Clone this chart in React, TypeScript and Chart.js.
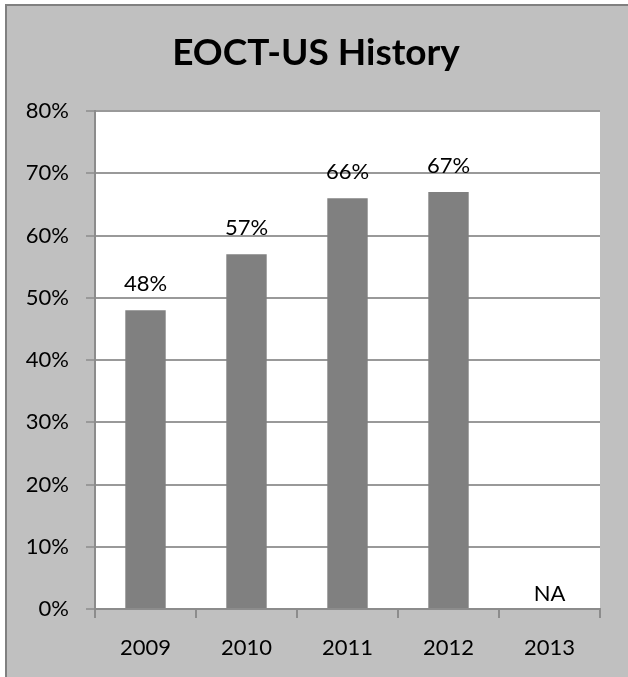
import React, { useEffect, useRef } from 'react';
import { Chart, registerables } from 'chart.js';

Chart.register(...registerables);

const chartTitle = 'EOCT-US History';
const categories = ['2009', '2010', '2011', '2012', '2013'];
const passRates: (number | null)[] = [48, 57, 66, 67, null];
const missingLabel = 'NA';
const yMin = 0;
const yMax = 80;
const yStep = 10;

const FONT = 'Lato, "Noto Sans", sans-serif';

const framePlugin = {
  id: 'frame',
  beforeDraw(chart: any) {
    const { ctx, width, height, chartArea } = chart;
    ctx.save();
    ctx.fillStyle = '#ffffff';
    ctx.fillRect(0, 0, width, height);
    ctx.fillStyle = '#c0c0c0';
    ctx.fillRect(5, 4, width - 5, height - 4);
    ctx.strokeStyle = '#808080';
    ctx.lineWidth = 2;
    ctx.beginPath();
    ctx.moveTo(6, height);
    ctx.lineTo(6, 5);
    ctx.lineTo(width, 5);
    ctx.stroke();
    ctx.fillStyle = '#ffffff';
    ctx.fillRect(chartArea.left, chartArea.top, chartArea.right - chartArea.left, chartArea.bottom - chartArea.top);
    ctx.fillStyle = '#000000';
    ctx.font = `bold 37px ${FONT}`;
    ctx.textAlign = 'center';
    ctx.textBaseline = 'middle';
    ctx.fillText(chartTitle, width / 2 + 2, 53);
    ctx.restore();
  },
};

const valueLabelPlugin = {
  id: 'valueLabels',
  afterDatasetsDraw(chart: any) {
    const { ctx } = chart;
    const meta = chart.getDatasetMeta(0);
    const xScale = chart.scales.x;
    const yScale = chart.scales.y;
    ctx.save();
    ctx.fillStyle = '#000000';
    ctx.font = `22px ${FONT}`;
    ctx.textAlign = 'center';
    ctx.textBaseline = 'middle';
    passRates.forEach((v, i) => {
      if (v === null) {
        const x = xScale.getPixelForValue(i);
        ctx.fillText(missingLabel, x, yScale.getPixelForValue(0) - 15);
      } else {
        const el = meta.data[i];
        ctx.fillText(`${v}%`, el.x, el.y - 26);
      }
    });
    ctx.restore();
  },
};

export default function App() {
  const ref = useRef<HTMLCanvasElement | null>(null);

  useEffect(() => {
    if (!ref.current) return;
    const chart = new Chart(ref.current, {
      type: 'bar',
      data: {
        labels: categories,
        datasets: [
          {
            data: passRates,
            backgroundColor: '#808080',
            borderWidth: 0,
            barPercentage: 0.8,
            categoryPercentage: 0.5,
          },
        ],
      },
      options: {
        responsive: false,
        animation: false,
        layout: { padding: { left: 0, right: 28, top: 111, bottom: 0 } },
        plugins: {
          legend: { display: false },
          tooltip: { enabled: false },
          title: { display: false },
        },
        scales: {
          x: {
            grid: {
              display: true,
              drawOnChartArea: false,
              drawTicks: true,
              tickLength: 9,
              color: '#8c8c8c',
              lineWidth: 2,
              offset: true,
            },
            border: { display: true, color: '#8c8c8c', width: 2 },
            ticks: {
              color: '#000000',
              font: { family: FONT, size: 22 },
              padding: 17,
            },
            afterFit(scale: any) {
              scale.height = 68;
            },
          },
          y: {
            min: yMin,
            max: yMax,
            ticks: {
              stepSize: yStep,
              color: '#000000',
              font: { family: FONT, size: 22 },
              padding: 17,
              callback: (v: any) => `${v}%`,
            },
            grid: {
              color: '#999999',
              lineWidth: 2,
              tickLength: 9,
              drawTicks: true,
            },
            border: { display: true, color: '#8c8c8c', width: 2 },
            afterFit(scale: any) {
              scale.width = 95;
            },
          },
        },
      },
      plugins: [framePlugin, valueLabelPlugin],
    });
    return () => chart.destroy();
  }, []);

  return (
    <div style={{ position: 'fixed', left: 0, top: 0, width: 628, height: 677 }}>
      <canvas ref={ref} width={628} height={677} style={{ display: 'block' }} />
    </div>
  );
}
